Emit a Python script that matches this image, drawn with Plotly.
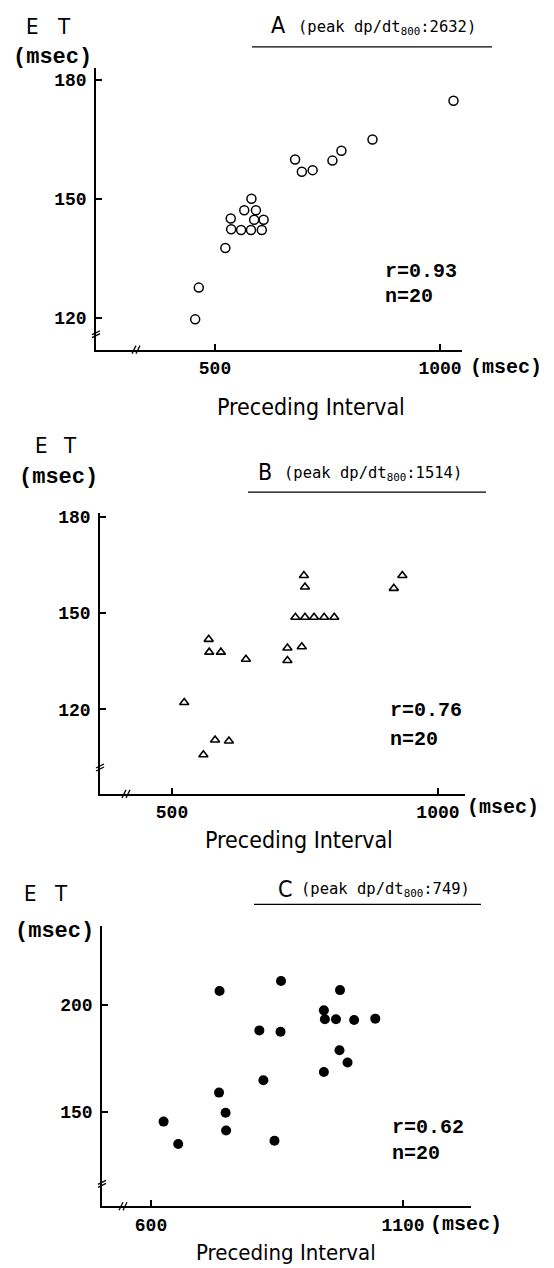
import plotly.graph_objects as go

W, H = 554, 1268

# ---------------- data ----------------
a_interval = [1030, 850, 781, 761, 678, 693, 717, 581, 565, 591, 535, 587, 608, 536, 558, 580, 604, 523, 464, 456]
a_et = [174.7, 164.9, 162.1, 159.6, 159.9, 156.8, 157.2, 150.0, 147.1, 147.1, 145.0, 144.7, 144.7, 142.3, 142.1, 142.1, 142.1, 137.6, 127.6, 119.6]

b_interval = [748, 750, 933, 917, 732, 750, 767, 786, 805, 569, 570, 592, 639, 717, 744, 717, 523, 581, 607, 559]
b_et = [161.7, 158.1, 161.7, 157.7, 148.7, 148.7, 148.7, 148.7, 148.7, 141.8, 137.8, 137.8, 135.6, 139.1, 139.5, 135.2, 122.1, 110.4, 110.1, 105.8]

c_interval = [858, 736, 975, 943, 945, 967, 1003, 1045, 815, 857, 974, 990, 943, 823, 735, 748, 749, 625, 654, 845]
c_et = [211.3, 206.6, 207.0, 197.5, 193.3, 193.3, 193.0, 193.6, 188.1, 187.5, 178.8, 173.0, 168.6, 164.7, 158.9, 149.5, 141.1, 145.3, 134.8, 136.3]

panel_letters = ["A", "B", "C"]
peak_values = ["2632", "1514", "749"]
r_values = ["0.93", "0.76", "0.62"]
n_values = ["20", "20", "20"]
a_xticks, a_yticks = [500, 1000], [120, 150, 180]
b_xticks, b_yticks = [500, 1000], [120, 150, 180]
c_xticks, c_yticks = [600, 1100], [150, 200]

# ---------------- helpers ----------------
def px(x):
    return x / W

def py(y):
    return 1 - y / H

SANS = "DejaVu Sans Condensed, Liberation Sans Narrow, DejaVu Sans, sans-serif"
MONO = "Liberation Mono, Courier New, monospace"
TMONO = "DejaVu Sans Mono, monospace"

fig = go.Figure()

fig.add_trace(go.Scatter(x=a_interval, y=a_et, mode="markers", xaxis="x", yaxis="y",
                         marker=dict(symbol="circle-open", size=9, color="black", line=dict(width=1.5, color="black"))))
fig.add_trace(go.Scatter(x=b_interval, y=b_et, mode="markers", xaxis="x2", yaxis="y2",
                         marker=dict(symbol="triangle-up-open", size=8, color="black", line=dict(width=1.6, color="black"))))
fig.add_trace(go.Scatter(x=c_interval, y=c_et, mode="markers", xaxis="x3", yaxis="y3",
                         marker=dict(symbol="circle", size=10, color="black", line=dict(width=0))))

# panel geometry in pixels (left, right, top, bottom) and ranges
panels = [
    dict(l=96, r=462, t=63, b=346, xr=[235.6, 1048.9], yr=[111.97, 183.0], xt=a_xticks, yt=a_yticks),
    dict(l=100, r=465, t=510, b=792, xr=[364.7, 1050.8], yr=[93.6, 181.2], xt=b_xticks, yt=b_yticks),
    dict(l=102, r=471, t=925, b=1206, xr=[502.8, 1234.9], yr=[105.6, 236.9], xt=c_xticks, yt=c_yticks),
]

axis_common = dict(showline=True, linecolor="black", linewidth=1.5, ticks="inside", ticklen=6,
                   tickwidth=1.5, tickcolor="black", showgrid=False, zeroline=False, fixedrange=True)

layout = dict(width=W, height=H, margin=dict(l=0, r=0, t=0, b=0), paper_bgcolor="white",
              plot_bgcolor="white", showlegend=False)

for i, p in enumerate(panels):
    sfx = "" if i == 0 else str(i + 1)
    layout["xaxis" + sfx] = dict(axis_common, domain=[px(p["l"]), px(p["r"])], range=p["xr"],
                                 tickvals=p["xt"], anchor="y" + sfx, ticklabelstandoff=1,
                                 tickfont=dict(family=MONO, size=18, color="black", weight="bold"))
    layout["yaxis" + sfx] = dict(axis_common, domain=[py(p["b"]), py(p["t"])], range=p["yr"],
                                 tickvals=p["yt"], anchor="x" + sfx, ticklabelstandoff=4,
                                 tickfont=dict(family=MONO, size=18, color="black", weight="bold"))

fig.update_layout(**layout)

annotations = []
shapes = []

def text(x, y, s, family, size, xanchor="center", weight="normal"):
    annotations.append(dict(x=px(x), y=py(y), xref="paper", yref="paper", text=s, showarrow=False,
                            xanchor=xanchor, yanchor="middle",
                            font=dict(family=family, size=size, color="black", weight=weight)))

def line(x0, y0, x1, y1, w=1.3):
    shapes.append(dict(type="line", xref="paper", yref="paper", x0=px(x0), y0=py(y0), x1=px(x1), y1=py(y1),
                       line=dict(color="black", width=w)))

# per-panel text positions (pixels)
txt = [
    dict(E=32.5, T=64, ety=22, ms=(52, 53), L=(278, 20), P=(296, 23), ul=(252, 492, 42),
         r=(383, 268), n=(383, 293), xm=(468, 364), pi=(311, 404)),
    dict(E=41.5, T=70, ety=442, ms=(58.5, 474), L=(265, 469), P=(282, 471), ul=(248, 486, 489),
         r=(388, 708), n=(388, 737), xm=(465, 806), pi=(299, 838)),
    dict(E=30.5, T=61, ety=892, ms=(54.5, 930), L=(285, 887), P=(299, 889), ul=(254, 481, 903),
         r=(390, 1127), n=(390, 1153), xm=(428, 1224), pi=(286, 1252)),
]

for i, t in enumerate(txt):
    text(t["E"], t["ety"], "E", SANS, 22)
    text(t["T"], t["ety"], "T", SANS, 22)
    text(t["ms"][0], t["ms"][1], "(msec)", MONO, 22, weight="bold")
    text(t["L"][0], t["L"][1], panel_letters[i], SANS, 23)
    text(t["P"][0], t["P"][1], "(peak dp/dt<sub>800</sub>:" + peak_values[i] + ")", TMONO, 15.5, xanchor="left")
    line(t["ul"][0], t["ul"][2], t["ul"][1], t["ul"][2], 1.2)
    text(t["r"][0], t["r"][1], "r=" + r_values[i], MONO, 20, xanchor="left", weight="bold")
    text(t["n"][0], t["n"][1], "n=" + n_values[i], MONO, 20, xanchor="left", weight="bold")
    text(t["xm"][0], t["xm"][1], "(msec)", MONO, 20, xanchor="left", weight="bold")
    text(t["pi"][0], t["pi"][1], "Preceding Interval", SANS, 23 if i < 2 else 22)

# axis break marks (decoration)
breaks = [(135, 346, 96, 330), (125, 792, 100, 765), (122, 1206, 102, 1183)]
for bx, by, ax, byy in breaks:
    line(bx - 3, by + 4, bx + 1, by - 4, 1.3)
    line(bx + 1, by + 4, bx + 5, by - 4, 1.3)
    line(ax - 4, byy + 1, ax + 4, byy - 3, 1.3)
    line(ax - 4, byy + 4, ax + 4, byy, 1.3)

fig.update_layout(annotations=annotations, shapes=shapes)
fig.write_html("out.html", config={"displayModeBar": False},
               post_script="document.body.style.margin='0';document.body.style.padding='0';"
                           "document.documentElement.style.overflow='hidden';")
